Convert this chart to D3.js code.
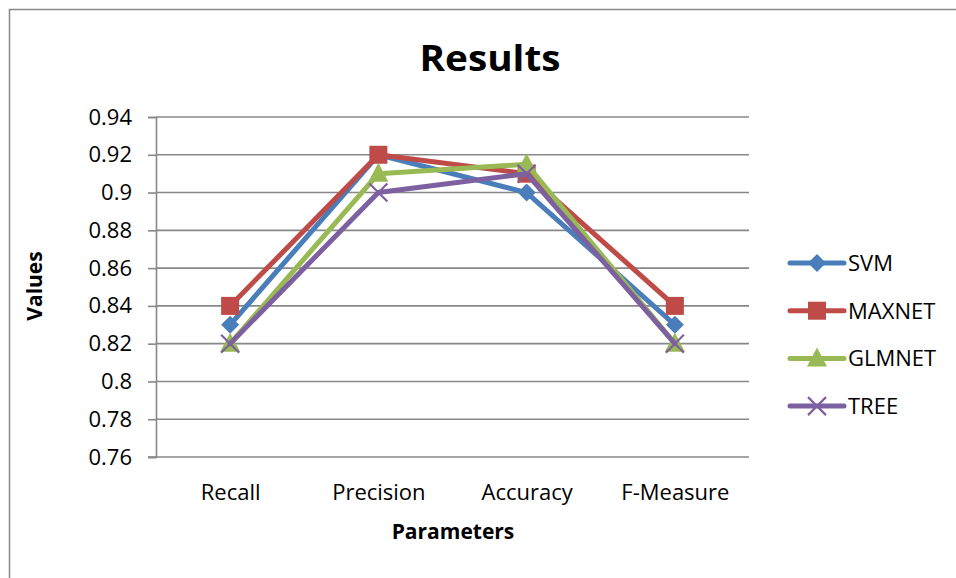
<!DOCTYPE html>
<html>
<head>
<meta charset="utf-8">
<script src="https://cdn.jsdelivr.net/npm/d3@7"></script>
<style>
  html, body { margin: 0; padding: 0; background: #fff; }
  svg { display: block; font-family: "Open Sans", "Liberation Sans", sans-serif; }
</style>
</head>
<body>
<svg id="chart" width="956" height="578"></svg>
<script>
// Evaluation parameters on the x axis
const categories = ["Recall", "Precision", "Accuracy", "F-Measure"];

// Scores per model
const svm    = [0.83, 0.92, 0.90, 0.83];
const maxnet = [0.84, 0.92, 0.91, 0.84];
const glmnet = [0.82, 0.91, 0.915, 0.82];
const tree   = [0.82, 0.90, 0.91, 0.82];

const seriesNames = ["SVM", "MAXNET", "GLMNET", "TREE"];
const yTicks = [0.76, 0.78, 0.8, 0.82, 0.84, 0.86, 0.88, 0.9, 0.92, 0.94];

const series = [
  { name: seriesNames[0], values: svm,    color: "#4a7ebb", marker: "diamond" },
  { name: seriesNames[1], values: maxnet, color: "#be4b48", marker: "square" },
  { name: seriesNames[2], values: glmnet, color: "#98b954", marker: "triangle" },
  { name: seriesNames[3], values: tree,   color: "#7d60a0", marker: "cross" }
];

const svg = d3.select("#chart");
const plot = { left: 156, right: 749, top: 117, bottom: 457 };
const labelFont = "'Open Sans', 'Liberation Sans', sans-serif";

// Outer chart frame (left and top edges visible)
svg.append("rect")
  .attr("x", 9.5).attr("y", 9.5)
  .attr("width", 1000).attr("height", 1000)
  .attr("fill", "none").attr("stroke", "#888").attr("stroke-width", 1.5);

const x = d3.scalePoint().domain(categories)
  .range([plot.left, plot.right]).padding(0.5);
const y = d3.scaleLinear().domain([0.76, 0.94])
  .range([plot.bottom, plot.top]);

// Horizontal gridlines
svg.append("g").selectAll("line")
  .data(yTicks.slice(1))
  .join("line")
  .attr("x1", plot.left).attr("x2", plot.right)
  .attr("y1", d => y(d)).attr("y2", d => y(d))
  .attr("stroke", "#888").attr("stroke-width", 1.6);

// Y axis
const yAxis = svg.append("g")
  .attr("transform", `translate(${plot.left},0)`)
  .call(d3.axisLeft(y).tickValues(yTicks)
    .tickFormat(d => String(+d.toFixed(2))).tickSize(8).tickPadding(16));
yAxis.select(".domain").attr("stroke", "#888").attr("stroke-width", 1.6);
yAxis.selectAll(".tick line").attr("stroke", "#888").attr("stroke-width", 1.6);
yAxis.selectAll(".tick text")
  .attr("font-size", 22).attr("fill", "#000")
  .attr("font-family", labelFont);

// X axis
const xAxis = svg.append("g")
  .attr("transform", `translate(0,${plot.bottom})`)
  .call(d3.axisBottom(x).tickSize(0).tickPadding(27));
xAxis.select(".domain").remove();
xAxis.append("line")
  .attr("x1", plot.left - 8).attr("x2", plot.right)
  .attr("stroke", "#888").attr("stroke-width", 1.6);
xAxis.selectAll(".tick text")
  .attr("font-size", 22).attr("fill", "#000")
  .attr("font-family", labelFont);

// Marker shapes
function drawMarker(g, type, color) {
  if (type === "diamond") {
    g.append("path").attr("d", "M0,-9L9,0L0,9L-9,0Z").attr("fill", color);
  } else if (type === "square") {
    g.append("rect").attr("x", -9).attr("y", -9).attr("width", 18).attr("height", 18).attr("fill", color);
  } else if (type === "triangle") {
    g.append("path").attr("d", "M0,-11L10,8L-10,8Z").attr("fill", color);
  } else {
    g.append("path").attr("d", "M-9,-9L9,9M-9,9L9,-9")
      .attr("stroke", color).attr("stroke-width", 2.2).attr("fill", "none");
  }
}

const line = d3.line().x((d, i) => x(categories[i])).y(d => y(d));

series.forEach(s => {
  const g = svg.append("g");
  g.append("path")
    .attr("d", line(s.values))
    .attr("fill", "none")
    .attr("stroke", s.color)
    .attr("stroke-width", 5)
    .attr("stroke-linejoin", "round")
    .attr("stroke-linecap", "round");
  s.values.forEach((v, i) => {
    const m = g.append("g").attr("transform", `translate(${x(categories[i])},${y(v)})`);
    drawMarker(m, s.marker, s.color);
  });
});

// Legend
const legend = svg.append("g").attr("transform", "translate(790,263)");
series.forEach((s, i) => {
  const row = legend.append("g").attr("transform", `translate(0,${i * 47.7})`);
  row.append("line")
    .attr("x1", 0).attr("x2", 54)
    .attr("stroke", s.color).attr("stroke-width", 5)
    .attr("stroke-linecap", "round");
  const m = row.append("g").attr("transform", "translate(27,0)");
  drawMarker(m, s.marker, s.color);
  row.append("text")
    .attr("x", 58).attr("y", 0).attr("dy", "0.36em")
    .attr("font-size", 22).attr("fill", "#000")
    .text(s.name);
});

// Titles
svg.append("text")
  .attr("x", 490).attr("y", 71)
  .attr("text-anchor", "middle")
  .attr("font-size", 36).attr("font-weight", "bold")
  .attr("textLength", 141).attr("lengthAdjust", "spacingAndGlyphs")
  .text("Results");

svg.append("text")
  .attr("x", 453).attr("y", 539)
  .attr("text-anchor", "middle")
  .attr("font-size", 21).attr("font-weight", "bold")
  .text("Parameters");

svg.append("text")
  .attr("transform", "translate(42,286) rotate(-90)")
  .attr("text-anchor", "middle")
  .attr("font-size", 21).attr("font-weight", "bold")
  .text("Values");
</script>
</body>
</html>
